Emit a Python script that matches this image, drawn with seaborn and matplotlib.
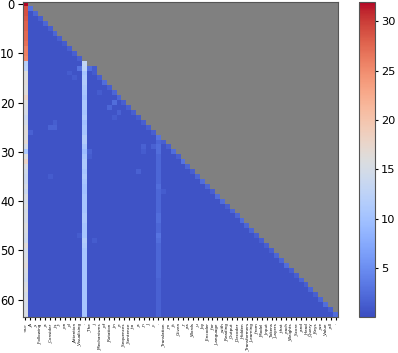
import matplotlib
matplotlib.use('Agg')
import matplotlib.pyplot as plt
import seaborn as sns
import numpy as np

# token labels along the x axis (too small to read exactly, best guess)
tokens = ['<s>', '_A', '_s', '_Following', '_a', '_Consider', '_is', '_t', '_on', '_d', '_Attention',
          '_Visualising', '.', '_The', '_i', '_Mechanisms', '_of', '_Rotation', '_in', '_e', '_Sequences',
          '_Sentence', '_to', '_a', '_n', '_l', '_c', '.', '_Translation', '_m', '_it', '_Given', '_r',
          '_as', '_Words', '_u', '_by', '_Encoder', '_for', '_Language', '_with', '_Reading', '_Output',
          '_Decoder', '_Hidden', '_Transformers', '_Learning', '_from', '_Model', '_Input', '_Tokens',
          '_Layers', '_that', '_each', '_Weights', '_Score', '_and', '_Head', '_Query', '_Keys', '_we',
          '_Value', '_all', '.']

# first column, one value per row
first_col = [32.0, 29.0, 29.0, 28.5, 28.0, 28.0, 27.5, 27.5, 27.0, 26.0, 26.0, 25.5, 12.0, 12.5, 16.0, 16.0,
             16.5, 16.0, 16.5, 18.0, 16.0, 15.5, 15.0, 14.0, 15.0, 16.0, 16.5, 16.0, 17.0, 15.0, 11.0, 16.0,
             18.0, 15.5, 14.5, 14.0, 14.0, 15.0, 14.0, 15.5, 15.0, 16.0, 15.0, 15.5, 15.0, 16.0, 15.5, 15.0,
             14.5, 16.5, 15.0, 15.5, 16.0, 16.5, 15.5, 15.0, 14.5, 15.5, 16.0, 15.0, 15.5, 15.0, 15.5, 15.5]

# bright column 12, from row 12 down
col12 = [13.0, 12.5, 10.5, 11.0, 11.5, 11.0, 10.5, 10.0, 11.0, 11.0, 10.5, 11.0, 10.0, 10.5, 10.5, 11.5,
         11.5, 10.5, 9.5, 10.5, 11.0, 11.0, 10.5, 11.0, 10.5, 10.0, 10.0, 10.5, 10.5, 10.5, 10.5, 11.0,
         11.0, 10.5, 10.5, 10.5, 11.5, 11.0, 10.5, 10.5, 10.5, 10.5, 10.5, 10.5, 10.5, 10.5, 10.5, 10.5,
         10.5, 10.5, 10.5, 10.5]

# fainter column 27, from row 27 down
col27 = [3.0, 2.0, 2.5, 2.5, 2.0, 2.0, 2.0, 2.0, 2.0, 2.0, 2.5, 2.0, 2.0, 2.0, 2.0, 2.0, 2.5, 2.5, 2.0, 2.0,
         3.0, 2.5, 2.0, 2.0, 2.0, 2.0, 2.0, 2.0, 2.0, 1.6, 1.6, 1.6, 1.6, 1.6, 1.6, 1.6, 1.6]

# main diagonal, rows 1..63 (rows 12 and 27 come from the columns above)
diagonal = [3.0, 2.0, 1.5, 2.0, 1.5, 2.0, 1.5, 1.2, 1.5, 1.5, 1.5, 0, 2.0, 2.0, 1.5, 2.5, 1.5, 2.0, 2.0, 1.5,
            1.5, 1.5, 1.2, 1.5, 1.5, 1.5, 0, 1.5, 1.5, 2.5, 1.5, 3.0, 2.0, 1.5, 2.0, 2.5, 2.0, 1.5, 2.5, 2.5,
            1.5, 2.0, 2.0, 2.5, 2.0, 2.0, 1.5, 1.5, 1.5, 1.5, 2.0, 2.0, 2.5, 1.5, 1.5, 2.0, 1.5, 2.0, 1.5,
            2.0, 2.5, 1.5, 2.5]

# small warm patches off the diagonal
spot_rows = [13, 13, 13, 14, 14, 15, 18, 19, 20, 21, 22, 23, 24, 25, 25, 26, 29, 29, 30, 30, 31, 34, 35, 38, 47, 48]
spot_cols = [11, 13, 14, 14, 9, 10, 15, 19, 18, 17, 19, 18, 6, 6, 5, 1, 26, 24, 24, 13, 13, 23, 5, 28, 11, 14]
spot_vals = [3.0, 2.5, 1.3, 1.3, 1.3, 1.2, 1.3, 2.0, 2.5, 2.0, 1.6, 1.3, 1.4, 1.8, 1.8, 1.6, 1.6, 1.6, 1.3, 1.6, 1.3, 1.6, 1.3, 1.3, 1.3, 1.3]

n = len(tokens)
attn = np.full((n, n), np.nan)
for i in range(n):
    attn[i, :i + 1] = 0.6
    attn[i, 0] = first_col[i]
    if i > 0:
        attn[i, i] = diagonal[i - 1]
    if i >= 12:
        attn[i, 12] = col12[i - 12]
    if i >= 27:
        attn[i, 27] = col27[i - 27]
for r, c, v in zip(spot_rows, spot_cols, spot_vals):
    attn[r, c] = v

fig = plt.figure(figsize=(3.98, 3.53), dpi=100)
W, H = 398.0, 353.0
ax = fig.add_axes([23 / W, 1 - 317 / H, 315 / W, 315.5 / H])
cax = fig.add_axes([359 / W, 1 - 317 / H, 16 / W, 315.5 / H])

sns.heatmap(attn, ax=ax, cbar_ax=cax, cmap='coolwarm', vmin=0.07, vmax=32, square=False,
            xticklabels=tokens, yticklabels=False)
ax.set_facecolor('gray')

ax.set_yticks(np.arange(0, n, 10) + 0.5)
ax.set_yticklabels(range(0, n, 10), rotation=0, fontsize=8.3)
ax.tick_params(axis='y', length=3.5, width=0.8, pad=2.5)
ax.tick_params(axis='x', length=2.5, width=0.8, pad=2, labelsize=3.0, labelrotation=90)

for s in ax.spines.values():
    s.set_visible(True)
    s.set_linewidth(0.8)
    s.set_color('#555555')

cbar = ax.collections[0].colorbar
cbar.set_ticks([5, 10, 15, 20, 25, 30])
cbar.ax.tick_params(labelsize=8.2, length=2.5, width=0.8, pad=2)
cbar.outline.set_visible(True)
cbar.outline.set_linewidth(0.8)
cbar.outline.set_edgecolor('#555555')

fig.savefig('out.png', dpi=100)
